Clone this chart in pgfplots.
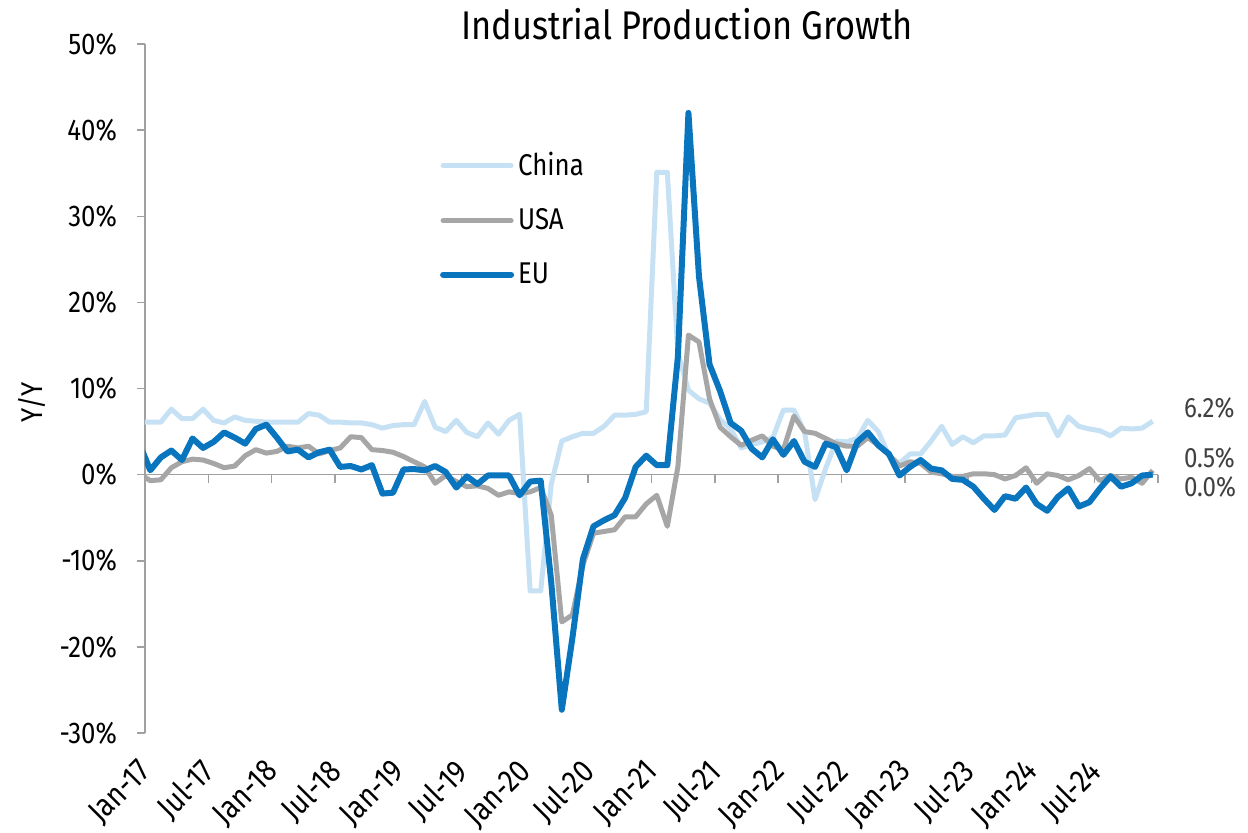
\documentclass[border=0pt]{standalone}
\usepackage{pgfplots}
\pgfplotsset{compat=1.18}
\usepackage{fontspec}
\setmainfont{Fira Sans}[FakeStretch=0.86]
\definecolor{chinac}{RGB}{199,225,244}
\definecolor{usac}{RGB}{166,166,166}
\definecolor{euc}{RGB}{8,117,190}
\definecolor{axgray}{RGB}{160,160,160}
\definecolor{lblgray}{RGB}{64,64,64}
\begin{document}
\begin{tikzpicture}
\begin{axis}[
  at={(0,0)}, anchor=south west,
  scale only axis, width=506.5pt, height=344.5pt,
  xmin=-0.5, xmax=95.5, ymin=-30, ymax=50,
  clip mode=individual,
  axis lines*=left,
  x axis line style={draw=none},
  y axis line style={axgray, line width=0.75pt},
  xtick={0,6,...,90},
  xticklabels={Jan-17,Jul-17,Jan-18,Jul-18,Jan-19,Jul-19,Jan-20,Jul-20,Jan-21,Jul-21,Jan-22,Jul-22,Jan-23,Jul-23,Jan-24,Jul-24},
  x tick style={draw=none},
  x tick label style={yshift=-14.5pt, xshift=0.5pt, rotate=45, anchor=east, font=\fontsize{16}{16}\selectfont},
  ytick={-30,-20,...,50},
  yticklabels={-30\%,-20\%,-10\%,0\%,10\%,20\%,30\%,40\%,50\%},
  y tick style={axgray, line width=0.75pt},
  ytick align=outside, major tick length=4pt,
  y tick label style={font=\fontsize{15}{15}\selectfont, xshift=-6.5pt},
  title={Industrial Production Growth},
  title style={at={(axis description cs:0.535,1)}, anchor=base, yshift=-3.5pt, font=\fontsize{20}{20}\selectfont},
  ylabel={Y/Y},
  ylabel style={at={(axis description cs:-0.112,0.48)}, anchor=center, font=\fontsize{15}{15}\selectfont},
  legend style={at={(axis description cs:0.285,0.855)}, anchor=north west, draw=none, fill=none,
    font=\fontsize{15}{15}\selectfont, row sep=11pt},
  legend cell align=left,
  legend image code/.code={\draw[#1, line cap=round] (0pt,0pt) -- (34pt,0pt);},
  every axis plot/.append style={line join=round},
]
\draw[axgray, line width=0.75pt] (axis cs:-0.5,0) -- (axis cs:95.5,0);
\draw[axgray, line width=0.75pt]
  (axis cs:5.5,0) -- ++(0pt,-4pt)
  (axis cs:11.5,0) -- ++(0pt,-4pt)
  (axis cs:17.5,0) -- ++(0pt,-4pt)
  (axis cs:23.5,0) -- ++(0pt,-4pt)
  (axis cs:29.5,0) -- ++(0pt,-4pt)
  (axis cs:35.5,0) -- ++(0pt,-4pt)
  (axis cs:41.5,0) -- ++(0pt,-4pt)
  (axis cs:47.5,0) -- ++(0pt,-4pt)
  (axis cs:53.5,0) -- ++(0pt,-4pt)
  (axis cs:59.5,0) -- ++(0pt,-4pt)
  (axis cs:65.5,0) -- ++(0pt,-4pt)
  (axis cs:71.5,0) -- ++(0pt,-4pt)
  (axis cs:77.5,0) -- ++(0pt,-4pt)
  (axis cs:83.5,0) -- ++(0pt,-4pt)
  (axis cs:89.5,0) -- ++(0pt,-4pt)
  (axis cs:95.5,0) -- ++(0pt,-4pt);
\addplot[chinac, line width=2.5pt] coordinates {
(-1,6.1)
(0,6.1)(1,6.1)(2,7.6)(3,6.5)(4,6.5)(5,7.6)(6,6.3)(7,6.0)(8,6.7)(9,6.3)(10,6.2)(11,6.1)
(12,6.1)(13,6.1)(14,6.1)(15,7.1)(16,6.9)(17,6.1)(18,6.1)(19,6.0)(20,6.0)(21,5.8)(22,5.4)(23,5.7)
(24,5.8)(25,5.8)(26,8.5)(27,5.5)(28,5.0)(29,6.3)(30,4.9)(31,4.4)(32,6.0)(33,4.7)(34,6.3)(35,7.0)
(36,-13.5)(37,-13.5)(38,-1.1)(39,3.9)(40,4.4)(41,4.8)(42,4.8)(43,5.6)(44,6.9)(45,6.9)(46,7.0)(47,7.3)
(48,35.1)(49,35.1)(50,14.1)(51,9.8)(52,8.8)(53,8.3)(54,6.4)(55,5.3)(56,3.1)(57,3.5)(58,3.8)(59,4.3)
(60,7.5)(61,7.5)(62,5.0)(63,-2.9)(64,0.7)(65,3.9)(66,3.8)(67,4.2)(68,6.3)(69,5.0)(70,2.2)(71,1.3)
(72,2.4)(73,2.4)(74,3.9)(75,5.6)(76,3.5)(77,4.4)(78,3.7)(79,4.5)(80,4.5)(81,4.6)(82,6.6)(83,6.8)
(84,7.0)(85,7.0)(86,4.5)(87,6.7)(88,5.6)(89,5.3)(90,5.1)(91,4.5)(92,5.4)(93,5.3)(94,5.4)(95,6.2)
};
\addlegendentry{China}
\addplot[usac, line width=2.5pt] coordinates {
(-1,0.1)
(0,-0.7)(1,-0.6)(2,0.8)(3,1.5)(4,1.8)(5,1.7)(6,1.3)(7,0.8)(8,1.0)(9,2.2)(10,2.9)(11,2.5)
(12,2.7)(13,3.3)(14,3.1)(15,3.3)(16,2.4)(17,2.8)(18,3.1)(19,4.4)(20,4.3)(21,2.9)(22,2.8)(23,2.6)
(24,2.1)(25,1.5)(26,0.9)(27,-1.0)(28,-0.1)(29,-0.8)(30,-1.4)(31,-1.3)(32,-1.6)(33,-2.4)(34,-2.0)(35,-2.2)
(36,-2.0)(37,-1.5)(38,-4.7)(39,-17.1)(40,-16.3)(41,-10.5)(42,-6.8)(43,-6.6)(44,-6.4)(45,-4.9)(46,-4.9)(47,-3.4)
(48,-2.4)(49,-6.0)(50,0.9)(51,16.2)(52,15.4)(53,8.8)(54,5.5)(55,4.4)(56,3.4)(57,4.0)(58,4.5)(59,3.3)
(60,2.9)(61,6.8)(62,5.0)(63,4.8)(64,4.2)(65,3.6)(66,3.3)(67,3.3)(68,4.3)(69,3.4)(70,2.3)(71,1.0)
(72,1.5)(73,1.3)(74,0.3)(75,0.1)(76,-0.2)(77,-0.2)(78,0.1)(79,0.1)(80,0.0)(81,-0.5)(82,-0.1)(83,0.8)
(84,-1.0)(85,0.1)(86,-0.1)(87,-0.6)(88,-0.1)(89,0.7)(90,-0.7)(91,-0.1)(92,-0.5)(93,-0.3)(94,-1.0)(95,0.5)
};
\addlegendentry{USA}
\addplot[euc, line width=3pt] coordinates {
(-1,3.5)
(0,0.5)(1,2.0)(2,2.8)(3,1.7)(4,4.2)(5,3.1)(6,3.8)(7,4.9)(8,4.3)(9,3.6)(10,5.3)(11,5.8)
(12,4.3)(13,2.7)(14,2.9)(15,2.0)(16,2.6)(17,2.9)(18,0.9)(19,1.0)(20,0.6)(21,1.1)(22,-2.2)(23,-2.1)
(24,0.6)(25,0.65)(26,0.5)(27,1.0)(28,0.3)(29,-1.5)(30,-0.2)(31,-1.1)(32,-0.1)(33,-0.1)(34,-0.1)(35,-2.4)
(36,-0.8)(37,-0.7)(38,-12.5)(39,-27.3)(40,-19.0)(41,-9.8)(42,-6.0)(43,-5.3)(44,-4.7)(45,-2.7)(46,0.9)(47,2.2)
(48,1.1)(49,1.1)(50,13.7)(51,42.0)(52,23.0)(53,12.8)(54,9.7)(55,6.0)(56,5.1)(57,3.0)(58,2.0)(59,4.1)
(60,2.3)(61,3.9)(62,1.5)(63,0.9)(64,3.6)(65,3.2)(66,0.5)(67,3.8)(68,4.9)(69,3.4)(70,2.4)(71,-0.1)
(72,0.9)(73,1.7)(74,0.7)(75,0.5)(76,-0.5)(77,-0.6)(78,-1.4)(79,-2.8)(80,-4.1)(81,-2.5)(82,-2.8)(83,-1.5)
(84,-3.4)(85,-4.2)(86,-2.6)(87,-1.6)(88,-3.7)(89,-3.2)(90,-1.6)(91,-0.2)(92,-1.4)(93,-1.0)(94,-0.1)(95,0.0)
};
\addlegendentry{EU}
\node[anchor=west, text=lblgray, font=\fontsize{14}{14}\selectfont] at (axis cs:97.3,7.75) {6.2\%};
\node[anchor=west, text=lblgray, font=\fontsize{14}{14}\selectfont] at (axis cs:97.3,1.94) {0.5\%};
\node[anchor=west, text=lblgray, font=\fontsize{14}{14}\selectfont] at (axis cs:97.3,-1.43) {0.0\%};
\end{axis}
\pgfresetboundingbox
\path[use as bounding box] (-72.5pt,-49.5pt) rectangle (551.5pt,366.5pt);
\end{tikzpicture}
\end{document}
